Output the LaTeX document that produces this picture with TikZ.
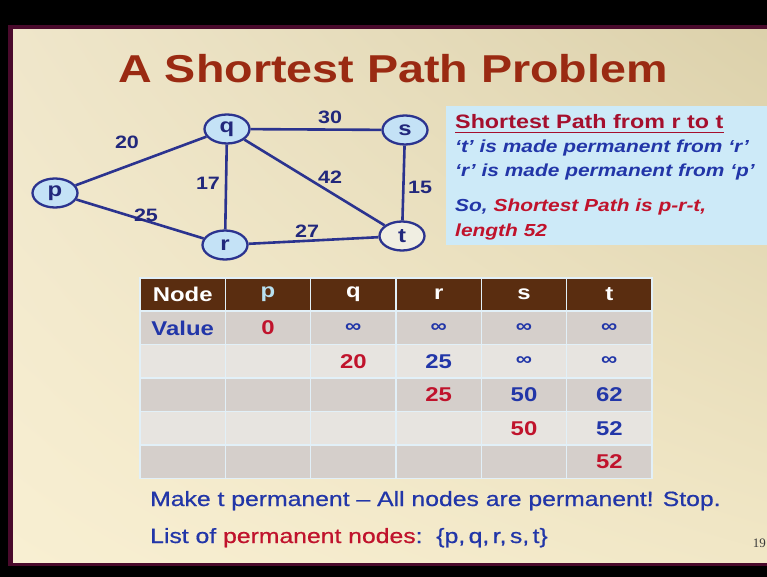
\documentclass[tikz,border=0pt]{standalone}
\usepackage{fontspec}
\setmainfont{Liberation Sans}[FakeStretch=1.2]
\newfontfamily\medfont{Liberation Sans}[FakeStretch=1.2, FakeBold=0.7]
\newfontfamily\numfont{Liberation Serif}
\usetikzlibrary{shapes.geometric,shadings}
\definecolor{frame}{HTML}{4A0A2C}
\definecolor{bgUL}{HTML}{EFE6CA}
\definecolor{bgUR}{HTML}{DCD1AB}
\definecolor{bgLL}{HTML}{F8EFD2}
\definecolor{bgLR}{HTML}{F1E7C6}
\definecolor{titlered}{HTML}{9A2A12}
\definecolor{edgeblue}{HTML}{2B338F}
\definecolor{navy}{HTML}{22287C}
\definecolor{nodefill}{HTML}{C4E2F6}
\definecolor{tfill}{HTML}{F0EEE2}
\definecolor{boxblue}{HTML}{CDEAF8}
\definecolor{headred}{HTML}{A50F2D}
\definecolor{txtred}{HTML}{C0132C}
\definecolor{txtblue}{HTML}{2236A8}
\definecolor{brown}{HTML}{5A2D10}
\definecolor{rowdark}{HTML}{D5CFCB}
\definecolor{rowlight}{HTML}{E7E4E0}
\definecolor{gridc}{HTML}{E2F0F8}
\definecolor{hdrp}{HTML}{B8E0F0}
\definecolor{pagenum}{HTML}{3A3A3A}
\begin{document}
\begin{tikzpicture}[x=1bp,y=-1bp,
  vert/.style={ellipse, draw=edgeblue, line width=2.3bp, fill=nodefill,
    minimum width=45bp, minimum height=29bp, inner sep=0pt,
    font=\fontsize{20}{20}\selectfont\bfseries, text=navy},
  edge/.style={draw=edgeblue, line width=2.6bp},
  elabel/.style={font=\fontsize{18}{18}\selectfont\bfseries, text=navy, inner sep=0pt},
  infotxt/.style={anchor=base west, inner sep=0pt, font=\fontsize{17.5}{17.5}\selectfont\bfseries\itshape},
  cell/.style={draw=gridc, line width=1.5bp, minimum width=85.33bp, minimum height=33.4bp, inner sep=0pt},
  tb/.style={font=\fontsize{20}{20}\selectfont\bfseries, inner sep=0pt},
  inf/.style={font=\fontsize{19}{19}\selectfont\bfseries, text=txtblue, inner sep=0pt},
  bottomtxt/.style={anchor=base west, inner sep=0pt, font=\medfont\fontsize{20.7}{20.7}\selectfont}
]
\useasboundingbox (0,0) rectangle (767,577);
% slide frame
\fill[black] (0,0) rectangle (767,577);
\fill[frame] (8,25) rectangle (767,566);
\shade[upper left=bgUL, upper right=bgUR, lower left=bgLL, lower right=bgLR] (13,30) rectangle (767,562);

% title
\node[anchor=base, inner sep=0pt, text=titlered, font=\fontsize{39}{39}\selectfont\bfseries] (title) at (393,83) {A Shortest Path Problem};

% graph
\node[vert] (p) at (55,193) {p};
\node[vert] (q) at (227,129) {q};
\node[vert] (s) at (405,130) {s};
\node[vert] (r) at (225,245) {r};
\node[vert, fill=tfill] (t) at (402,236) {t};
\draw[edge] (p) -- (q);
\draw[edge] (p) -- (r);
\draw[edge] (q) -- (s);
\draw[edge] (q) -- (r);
\draw[edge] (q) -- (t);
\draw[edge] (s) -- (t);
\draw[edge] (r) -- (t);
\node[elabel] (l20) at (127,142) {20};
\node[elabel] (l30) at (330,117) {30};
\node[elabel] (l17) at (208,183) {17};
\node[elabel] (l42) at (330,177) {42};
\node[elabel] (l15) at (420,187) {15};
\node[elabel] (l25) at (146,215) {25};
\node[elabel] (l27) at (307,231) {27};

% info box
\node[anchor=north west, fill=boxblue, minimum width=321bp, minimum height=139bp, inner sep=0pt] (infobox) at (446,106) {};
\node[anchor=base west, inner sep=0pt, text=headred, font=\fontsize{19.5}{19.5}\selectfont\bfseries] (head) at (455,129) {Shortest Path from r to t};
\draw[headred, line width=1.8bp] ([yshift=-3.5bp]head.base west) -- ([yshift=-3.5bp]head.base east);
\node[infotxt, text=txtblue] (i1) at (455,153) {‘t’ is made permanent from ‘r’};
\node[infotxt, text=txtblue] (i2) at (455,177) {‘r’ is made permanent from ‘p’};
\node[infotxt, text=txtblue] (i3) at (455,212) {So, \textcolor{txtred}{Shortest Path is p-r-t,}};
\node[infotxt, text=txtred] (i4) at (455,236) {length 52};

% table
\foreach \j/\xx in {1/182.67,2/268,3/353.33,4/438.67,5/524,6/609.33}{
  \node[cell, fill=brown] (h\j) at (\xx,294.5) {};
  \foreach \i/\yy/\rc in {1/328/rowdark,2/361.4/rowlight,3/394.8/rowdark,4/428.2/rowlight,5/461.6/rowdark}{
    \node[cell, fill=\rc] (c\i\j) at (\xx,\yy) {};
  }
}
\node[tb, text=white] (th1) at (h1) {Node};
\node[tb, text=hdrp] (th2) at (h2) {p};
\node[tb, text=white] (th3) at (h3) {q};
\node[tb, text=white] (th4) at (h4) {r};
\node[tb, text=white] (th5) at (h5) {s};
\node[tb, text=white] (th6) at (h6) {t};
\node[tb, text=txtblue] (v11) at (c11) {Value};
\node[tb, text=txtred] (v12) at (c12) {0};
\node[inf] (v13) at (c13) {∞};
\node[inf] (v14) at (c14) {∞};
\node[inf] (v15) at (c15) {∞};
\node[inf] (v16) at (c16) {∞};
\node[tb, text=txtred] (v23) at (c23) {20};
\node[tb, text=txtblue] (v24) at (c24) {25};
\node[inf] (v25) at (c25) {∞};
\node[inf] (v26) at (c26) {∞};
\node[tb, text=txtred] (v34) at (c34) {25};
\node[tb, text=txtblue] (v35) at (c35) {50};
\node[tb, text=txtblue] (v36) at (c36) {62};
\node[tb, text=txtred] (v45) at (c45) {50};
\node[tb, text=txtblue] (v46) at (c46) {52};
\node[tb, text=txtred] (v56) at (c56) {52};

% bottom text
\node[bottomtxt, text=txtblue] (make) at (150,506) {Make t permanent – All nodes are permanent! Stop.};
\node[bottomtxt, text=txtblue] (list) at (150,543) {List of \textcolor{txtred}{permanent nodes}:\ \ \{p,\,q,\,r,\,s,\,t\}};

% page number
\node[anchor=base east, inner sep=0pt, text=pagenum, font=\numfont\fontsize{13}{13}\selectfont] (pnum) at (766,547) {19};
\end{tikzpicture}
\end{document}
